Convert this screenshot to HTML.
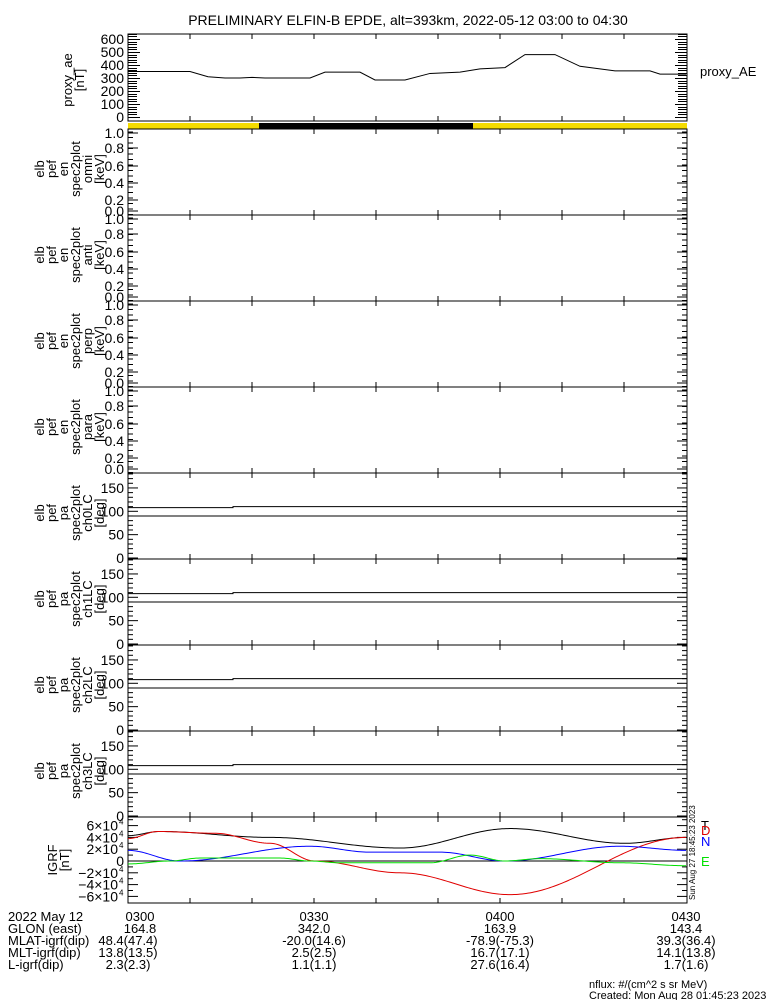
<!DOCTYPE html>
<html><head><meta charset="utf-8"><style>
html,body{margin:0;padding:0;background:#fff;}
svg{display:block;font-family:"Liberation Sans",sans-serif;}
</style></head><body>
<svg id="s" width="775" height="1000" viewBox="0 0 775 1000" xmlns="http://www.w3.org/2000/svg">
<rect width="775" height="1000" fill="#fff"/>
<text x="408" y="25" font-size="14" text-anchor="middle">PRELIMINARY ELFIN-B EPDE, alt=393km, 2022-05-12 03:00 to 04:30</text>
<rect x="128" y="123" width="131" height="6" fill="#f5dc00"/>
<rect x="259" y="123" width="214" height="6" fill="#000"/>
<rect x="473" y="123" width="214" height="6" fill="#f5dc00"/>
<text x="700" y="76" font-size="13">proxy_AE</text>
<g id="g" stroke="#000" fill="none" stroke-width="1"></g>
<g id="t" font-size="14" fill="#000"></g>
<g font-size="13" fill="#000">
<text x="8" y="921">2022 May 12</text>
<text x="8" y="933">GLON (east)</text>
<text x="8" y="945">MLAT-igrf(dip)</text>
<text x="8" y="957">MLT-igrf(dip)</text>
<text x="8" y="969">L-igrf(dip)</text>
<g text-anchor="middle">
<text x="140" y="921">0300</text><text x="314" y="921">0330</text><text x="500" y="921">0400</text><text x="686" y="921">0430</text>
<text x="140" y="933">164.8</text><text x="314" y="933">342.0</text><text x="500" y="933">163.9</text><text x="686" y="933">143.4</text>
<text x="128" y="945">48.4(47.4)</text><text x="314" y="945">-20.0(14.6)</text><text x="500" y="945">-78.9(-75.3)</text><text x="686" y="945">39.3(36.4)</text>
<text x="128" y="957">13.8(13.5)</text><text x="314" y="957">2.5(2.5)</text><text x="500" y="957">16.7(17.1)</text><text x="686" y="957">14.1(13.8)</text>
<text x="128" y="969">2.3(2.3)</text><text x="314" y="969">1.1(1.1)</text><text x="500" y="969">27.6(16.4)</text><text x="686" y="969">1.7(1.6)</text>
</g>
<text x="589" y="988" font-size="11">nflux: #/(cm^2 s sr MeV)</text>
<text x="589" y="999" font-size="11">Created: Mon Aug 28 01:45:23 2023</text>
<text x="701" y="830" fill="#000">T</text>
<text x="701" y="835" fill="#e00000">D</text>
<text x="701" y="846" fill="#0000ff">N</text>
<text x="701" y="866" fill="#00e000">E</text>
<text transform="translate(695,900) rotate(-90)" font-size="8">Sun Aug 27 18:45:23 2023</text>
</g>
</svg>
<script>
var g=document.getElementById('g'),t=document.getElementById('t'),NS='http://www.w3.org/2000/svg';
function el(p,n,a,tx){var e=document.createElementNS(NS,n);for(var k in a)e.setAttribute(k,a[k]);if(tx!=null)e.textContent=tx;p.appendChild(e);return e;}
function L(x1,y1,x2,y2,c){el(g,'line',{x1:x1,y1:y1,x2:x2,y2:y2,stroke:c||'#000'});}
function P(pts,c){el(g,'polyline',{points:pts.map(function(p){return p.join(',')}).join(' '),stroke:c||'#000'});}
var X0=128,X1=687;
function frame(y0,y1){el(g,'rect',{x:X0,y:y0,width:X1-X0,height:y1-y0});
 for(var i=1;i<9;i++){var x=X0+i*62;L(x,y0,x,y0+5);L(x,y1,x,y1-5);}}
function lbl(lines,cx,cy){var tt=el(t,'text',{transform:'translate('+cx+','+cy+') rotate(-90)','text-anchor':'middle','font-size':13});
 lines.forEach(function(s,i){el(tt,'tspan',{x:0,dy:i?12:0},s);});}
// proxy ae
frame(34,121);
for(var v=0;v<=640;v+=20){var y=Math.round(117-v*0.13)+0.5;var w=(v%100==0)?12:9;L(X0,y,X0+w,y);L(X1,y,X1-w,y);}
for(var v=0;v<=600;v+=100)el(t,'text',{x:124,y:117-v*0.13+5,'text-anchor':'end'},''+v);
lbl(['proxy_ae','[nT]'],72,80);
var ae=[[128,350],[190,350],[208,310],[225,300],[240,300],[252,305],[265,300],[310,300],[325,345],[360,345],[375,285],[405,285],[430,335],[460,345],[480,370],[505,380],[525,480],[555,480],[580,390],[615,355],[650,355],[660,330],[686,330]];
P(ae.map(function(p){return[p[0],117-p[1]*0.13]}));
// energy panels
var names=['omni','anti','perp','para'];
var epos=[[1,133],[0.8,148],[0.6,166],[0.4,183],[0.2,200],[0,211]];
for(var k=0;k<4;k++){var o=129+k*86;frame(o,o+86);
 epos.forEach(function(e){var y=e[1]+k*86;L(X0,y,X0+10,y);L(X1,y,X1-10,y);el(t,'text',{x:124,y:y+5,'text-anchor':'end'},e[0].toFixed(1));});
 for(var y=o+3;y<o+86;y+=5.5){L(X0,y,X0+5,y);L(X1,y,X1-5,y);}
 lbl(['elb','pef','en','spec2plot',names[k],'[keV]'],44,o+40);}
// pa panels
for(var k=0;k<4;k++){var o=473+k*86,b=o+85;frame(o,o+86);
 for(var v=0;v<=180;v+=10){var y=b-v*0.467;var w=(v%50==0)?10:5;L(X0,y,X0+w,y);L(X1,y,X1-w,y);}
 for(var v=0;v<=150;v+=50)el(t,'text',{x:124,y:b-v*0.467+5,'text-anchor':'end'},''+v);
 var y1=b-110*0.467,y2=b-90*0.467;
 P([[X0,y1+1],[233,y1+1],[233,y1],[X1,y1]]);L(X0,y2,X1,y2);
 lbl(['elb','pef','pa','spec2plot','ch'+k+'LC','[deg]'],44,o+40);}
// IGRF
frame(817,903);var z=861,s=0.00059;
for(var v=-70000;v<=70000;v+=10000){var y=z-v*s;if(y<818||y>902)continue;var w=(v%20000==0)?10:5;L(X0,y,X0+w,y);L(X1,y,X1-w,y);}
[[6,'6×10'],[4,'4×10'],[2,'2×10'],[0,'0'],[-2,'−2×10'],[-4,'−4×10'],[-6,'−6×10']].forEach(function(a){var y=z-a[0]*10000*s+5;var tt=el(t,'text',{x:a[0]==0?124:118,y:y,'text-anchor':'end'},a[1]);if(a[0]!=0)el(t,'text',{x:119,y:y-6,'font-size':8},'4');});
L(X0,z,X1,z);
lbl(['IGRF','[nT]'],57,860);
function curve(pts,c){var out=[];for(var x=128;x<=686;x+=2){var i=0;while(i<pts.length-2&&pts[i+1][0]<x)i++;var a=pts[i],b=pts[i+1];var f=(x-a[0])/(b[0]-a[0]);f=(1-Math.cos(Math.PI*Math.max(0,Math.min(1,f))))/2;out.push([x,z-(a[1]+(b[1]-a[1])*f)*1000*s]);}P(out,c);}
curve([[128,43],[160,50],[270,40],[400,22],[510,55],[625,30],[686,40]],'#000');
curve([[128,38],[158,50],[215,47],[270,30],[315,0],[400,-20],[510,-57],[686,40]],'#e00000');
curve([[128,18],[180,0],[310,25],[370,15],[440,15],[505,0],[620,25],[686,18]],'#0000ff');
curve([[128,-5],[170,0],[200,5],[280,5],[310,0],[340,-3],[430,-3],[470,10],[505,0],[540,4],[620,-3],[686,-8]],'#00dd00');
</script>
</body></html>
